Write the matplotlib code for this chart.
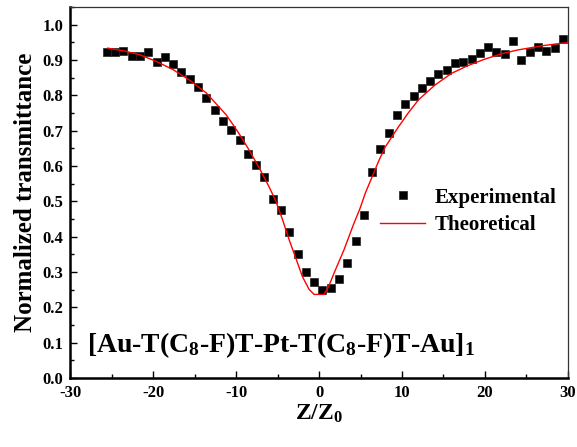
import matplotlib
matplotlib.use("Agg")
import matplotlib.pyplot as plt
from matplotlib.ticker import MultipleLocator

plt.rcParams['font.family'] = ['Liberation Serif', 'DejaVu Serif']
plt.rcParams['font.weight'] = 'bold'
plt.rcParams['mathtext.default'] = 'regular'
plt.rcParams['axes.unicode_minus'] = False

# Experimental data
exp_z = [-25.6, -24.6, -23.6, -22.6, -21.6, -20.6, -19.6, -18.6, -17.6, -16.6,
         -15.6, -14.6, -13.6, -12.6, -11.6, -10.6, -9.6, -8.6, -7.6, -6.6,
         -5.6, -4.6, -3.6, -2.6, -1.6, -0.6, 0.4, 1.4, 2.4, 3.4,
         4.4, 5.4, 6.4, 7.4, 8.4, 9.4, 10.4, 11.4, 12.4, 13.4,
         14.4, 15.4, 16.4, 17.4, 18.4, 19.4, 20.4, 21.4, 22.4, 23.4,
         24.4, 25.4, 26.4, 27.4, 28.4, 29.4]
exp_t = [0.923, 0.923, 0.925, 0.912, 0.912, 0.924, 0.894, 0.909, 0.890, 0.867,
         0.846, 0.825, 0.793, 0.759, 0.729, 0.702, 0.673, 0.634, 0.603, 0.570,
         0.508, 0.477, 0.415, 0.351, 0.300, 0.271, 0.249, 0.256, 0.280, 0.325,
         0.389, 0.463, 0.584, 0.648, 0.695, 0.744, 0.775, 0.799, 0.820, 0.841,
         0.861, 0.872, 0.893, 0.895, 0.904, 0.921, 0.938, 0.923, 0.917, 0.955,
         0.900, 0.923, 0.936, 0.926, 0.934, 0.961]

# Theoretical curve
th_z = [-25.5, -23.5, -21.6, -19.6, -17.6, -15.6, -13.6, -12.4, -11.2, -10.4,
        -9.6, -8.4, -7.2, -6.0, -5.2, -4.4, -3.6, -2.8, -2.0, -1.2,
        -0.6, 0.6, 1.2, 1.8, 3.0, 4.2, 4.9, 5.6, 6.4, 7.2,
        8.0, 9.6, 10.8, 12.0, 14.0, 16.0, 18.0, 20.0, 22.0, 24.0,
        27.0, 30.0]
th_t = [0.934, 0.926, 0.915, 0.896, 0.873, 0.843, 0.807, 0.776, 0.745, 0.718,
        0.690, 0.644, 0.594, 0.540, 0.500, 0.448, 0.391, 0.339, 0.287, 0.251,
        0.237, 0.237, 0.262, 0.297, 0.363, 0.438, 0.478, 0.525, 0.570, 0.615,
        0.655, 0.712, 0.752, 0.788, 0.830, 0.863, 0.885, 0.903, 0.918, 0.929,
        0.941, 0.950]

fig = plt.figure(figsize=(5.77, 4.47), dpi=100)
ax = fig.add_axes([0.122, 0.154, 0.862, 0.830])

ax.plot(exp_z, exp_t, linestyle='none', marker='s', markersize=5.5,
        color='black', markeredgecolor='#222222', markeredgewidth=0.5,
        label='Experimental')
ax.plot(th_z, th_t, color='red', linewidth=1.0, label='Theoretical')

ax.set_xlim(-30, 30)
ax.set_ylim(0.0, 1.05)
ax.xaxis.set_major_locator(MultipleLocator(10))
ax.xaxis.set_minor_locator(MultipleLocator(5))
ax.yaxis.set_major_locator(MultipleLocator(0.1))
ax.yaxis.set_minor_locator(MultipleLocator(0.05))
ax.yaxis.set_major_formatter(plt.FormatStrFormatter('%.1f'))

ax.tick_params(which='both', direction='in', top=False, right=False,
               labelsize=12, width=1.0)
ax.tick_params(which='major', length=5, pad=5)
ax.tick_params(which='minor', length=3)
for lab in ax.get_xticklabels() + ax.get_yticklabels():
    lab.set_fontweight('bold')

for side in ['left', 'bottom']:
    ax.spines[side].set_linewidth(1.8)
for side in ['top', 'right']:
    ax.spines[side].set_linewidth(0.9)
    ax.spines[side].set_color('#333333')

ax.set_xlabel('Z/Z$_0$', fontsize=17, fontweight='bold', labelpad=1)
ax.set_ylabel('Normalized transmittance', fontsize=18, fontweight='bold', labelpad=4)

ax.text(-28.0, 0.093, '[Au-T(C$_8$-F)T-Pt-T(C$_8$-F)T-Au]$_1$', fontsize=20,
        fontweight='bold', va='center', ha='left')

leg = ax.legend(loc='center left', bbox_to_anchor=(0.605, 0.450), frameon=False,
                prop={'size': 15, 'weight': 'bold'}, handlelength=2.2,
                handletextpad=0.45, labelspacing=0.35, borderaxespad=0)

fig.savefig('out.png', dpi=100)
